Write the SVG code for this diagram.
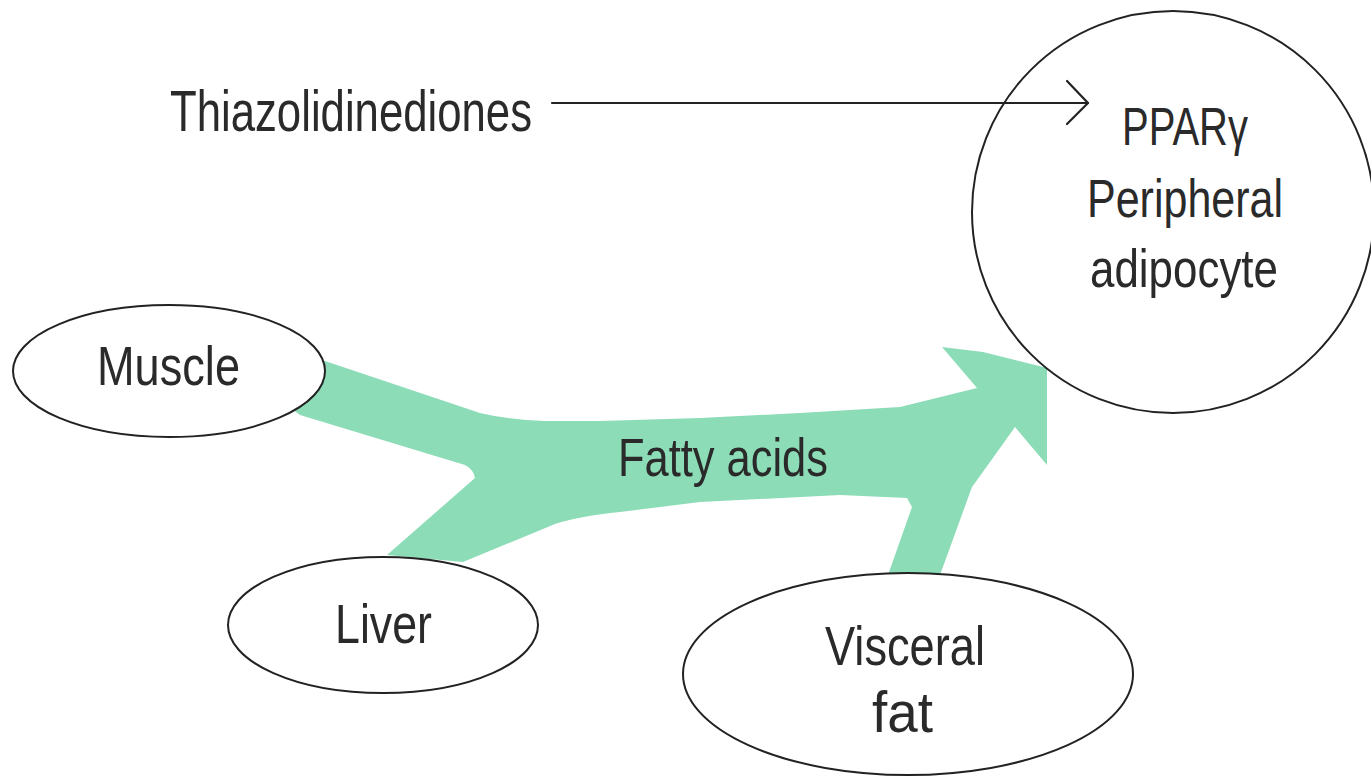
<svg xmlns="http://www.w3.org/2000/svg" width="1371" height="778" viewBox="0 0 1371 778">
<style>
.lbl{font-family:"Liberation Sans",Arial,sans-serif;font-size:56px;fill:#2a2a2a}
.node{fill:#fff;stroke:#222;stroke-width:2}
.edge{fill:none;stroke:#222;stroke-width:2.2;stroke-linecap:round;stroke-linejoin:round}
.flow{fill:#8cdcb7}
</style>
<rect width="1371" height="778" fill="#fff"/>
<g id="connectors">
  <path id="fatty-acid-flow" class="flow" d="M290,350 L322,360 L480,413 Q510,420 545,421 L600,421 L700,418 L800,413 L900,407 L977,388 L942,347 L983,352 L1047,368 L1047,465 L1015,427 L990,462 L972,487 L940,575 L888,575 L912,507 L907,498 L840,495 L700,502 L620,512 Q580,516 555,524 L463,562 L387,555 L475,478 Q474,470 465,465 L300,415 L280,400 Z"/>
  <line class="edge" x1="552" y1="103" x2="1088" y2="103"/>
  <polyline class="edge" points="1067,81 1088,103 1067,124"/>
  <text class="lbl" x="618" y="476" textLength="210" lengthAdjust="spacingAndGlyphs" style="font-size:54px">Fatty acids</text>
</g>
<g id="thiazolidinediones">
  <text class="lbl" x="170" y="131" textLength="362" lengthAdjust="spacingAndGlyphs" style="font-size:58px">Thiazolidinediones</text>
</g>
<g id="ppar">
  <circle class="node" style="fill:none" cx="1173" cy="212" r="201"/>
  <text class="lbl" x="1122" y="145" textLength="126" lengthAdjust="spacingAndGlyphs" style="font-size:53px">PPARγ</text>
  <text class="lbl" x="1087" y="217" textLength="196" lengthAdjust="spacingAndGlyphs" style="font-size:53px">Peripheral</text>
  <text class="lbl" x="1090" y="287" textLength="188" lengthAdjust="spacingAndGlyphs" style="font-size:53px">adipocyte</text>
</g>
<g id="muscle">
  <ellipse class="node" cx="169" cy="371" rx="156" ry="66"/>
  <text class="lbl" x="97" y="385" textLength="143" lengthAdjust="spacingAndGlyphs">Muscle</text>
</g>
<g id="liver">
  <ellipse class="node" cx="383" cy="625" rx="155" ry="68"/>
  <text class="lbl" x="335" y="643" textLength="97" lengthAdjust="spacingAndGlyphs">Liver</text>
</g>
<g id="visceral-fat">
  <ellipse class="node" cx="908" cy="674" rx="225" ry="101"/>
  <text class="lbl" x="825" y="665" textLength="160" lengthAdjust="spacingAndGlyphs">Visceral</text>
  <text class="lbl" x="872" y="732" textLength="61" lengthAdjust="spacingAndGlyphs" style="font-size:58px">fat</text>
</g>
</svg>
